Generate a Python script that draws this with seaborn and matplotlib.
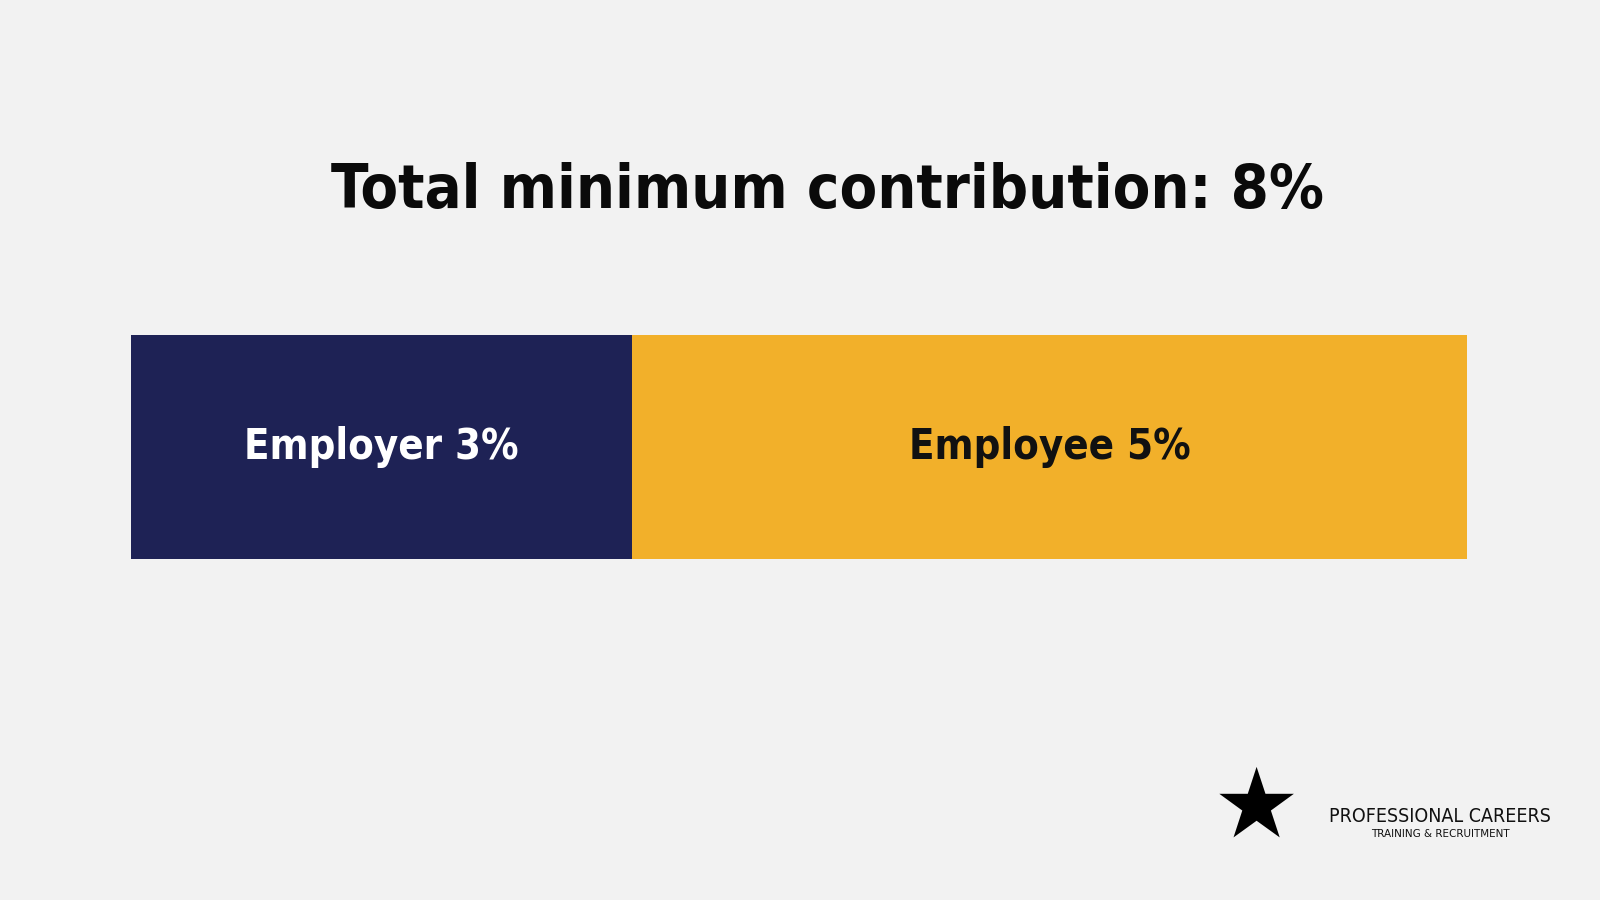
import matplotlib
matplotlib.use("Agg")
import matplotlib.pyplot as plt
import seaborn as sns

categories = ["Employer", "Employee"]
values = [3, 5]
colors = ["#1e2255", "#f2b02a"]
text_colors = ["white", "#111111"]
title = "Total minimum contribution: 8%"

sns.set_theme(style="white")
plt.rcParams['font.family'] = ['DejaVu Sans']

fig = plt.figure(figsize=(16, 9), dpi=100, facecolor="#f2f2f2")
ax = fig.add_axes([0.0816, 0.379, 0.8355, 0.249])
ax.set_facecolor("#f2f2f2")

left = 0
for c, v, col, tc in zip(categories, values, colors, text_colors):
    ax.barh([0], [v], left=[left], height=1.0, color=col, edgecolor="none")
    ax.text(left + v / 2, 0, f"{c} {v}%", ha="center", va="center",
            fontsize=30, fontweight="bold", color=tc, fontstretch="condensed")
    left += v
ax.set_xlim(0, sum(values))
ax.set_ylim(-0.5, 0.5)
ax.axis("off")

fig.text(0.517, 0.787, title, ha="center", va="center", fontsize=44,
         fontweight="bold", color="#0a0a0a", fontstretch="condensed")

# logo
fig.text(0.785, 0.10, "★", fontsize=70, color="black", ha="center", va="center")
fig.text(0.9, 0.093, "PROFESSIONAL CAREERS", fontsize=14, ha="center", va="center",
         color="#111", fontstretch="condensed")
fig.text(0.9, 0.073, "TRAINING & RECRUITMENT", fontsize=7.5, ha="center", va="center", color="#111")

fig.savefig("out.png", dpi=100, facecolor=fig.get_facecolor())
